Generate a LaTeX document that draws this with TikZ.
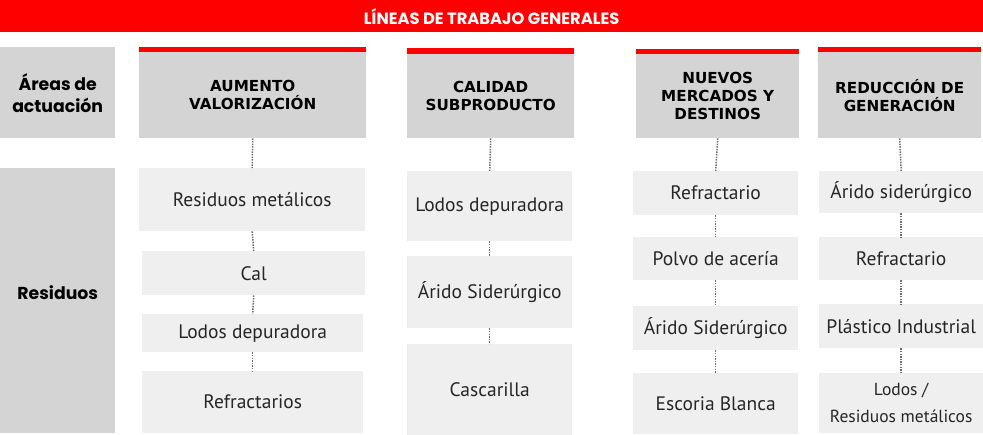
\documentclass[tikz,border=0pt]{standalone}
\usepackage{fontspec}
\setmainfont{PT Sans}
\newfontfamily\headfont{DejaVu Sans}
\newfontfamily\roundfont{Poppins}
\usepackage{tikz}

\definecolor{barred}{HTML}{FF0000}
\definecolor{headgray}{HTML}{D4D4D4}
\definecolor{itemgray}{HTML}{EFEFEF}
\definecolor{dotgray}{HTML}{6E6E6E}

\tikzset{
    titlebar/.style={fill=barred, text=white, anchor=north west, inner sep=0pt,
        font=\roundfont\bfseries\fontsize{16.3}{18}\selectfont},
    sidebox/.style={fill=headgray, anchor=north west, inner sep=0pt, align=center,
        font=\roundfont\bfseries\fontsize{17.3}{22}\selectfont},
    headbox/.style={fill=headgray, anchor=north west, inner sep=0pt, align=center,
        font=\headfont\bfseries\fontsize{15.2}{18}\selectfont},
    item/.style={fill=itemgray, anchor=north west, inner sep=0pt, align=center,
        text=black!85, font=\fontsize{19.5}{22}\selectfont},
    dots/.style={draw=dotgray, line width=1.5pt, dash pattern=on 1.5pt off 1.1pt}
}

\begin{document}
\begin{tikzpicture}[x=1pt, y=-1pt]
                \useasboundingbox (0,0) rectangle (983,435);
                \node[titlebar, minimum width=983, minimum height=32] (titulo) at (0,0) {LÍNEAS DE TRABAJO GENERALES};
                % left column
                \node[sidebox, minimum width=115, minimum height=91] (areas) at (0,47) {Áreas de\\actuación};
                \node[sidebox, minimum width=115, minimum height=265, text depth=16pt] (residuos) at (0,168) {Residuos};
                % headers
                \fill[barred] (139,47) rectangle (366,52);
                \fill[barred] (407,48) rectangle (574,54);
                \fill[barred] (636,49) rectangle (799,54);
                \fill[barred] (818,47) rectangle (981,52);
                \node[headbox, minimum width=227, minimum height=86] (aumento) at (139,52) {AUMENTO\\VALORIZACIÓN};
                \node[headbox, minimum width=167, minimum height=84] (calidad) at (407,54) {CALIDAD\\SUBPRODUCTO};
                \node[headbox, minimum width=163, minimum height=84] (nuevos) at (636,54) {NUEVOS\\MERCADOS Y\\DESTINOS};
                \node[headbox, minimum width=163, minimum height=86] (reduccion) at (818,52) {REDUCCIÓN DE\\GENERACIÓN};
                % aumento valorizacion
                \node[item, minimum width=226, minimum height=63] (a1) at (139,168) {Residuos metálicos};
                \node[item, minimum width=223, minimum height=44] (a2) at (142,251) {Cal};
                \node[item, minimum width=221, minimum height=38] (a3) at (142,314) {Lodos depuradora};
                \node[item, minimum width=221, minimum height=62] (a4) at (142,371) {Refractarios};
                % calidad subproducto
                \node[item, minimum width=165, minimum height=70] (b1) at (407,171) {Lodos depuradora};
                \node[item, minimum width=165, minimum height=72] (b2) at (407,256) {Árido Siderúrgico};
                \node[item, minimum width=165, minimum height=91] (b3) at (407,344) {Cascarilla};
                % nuevos mercados
                \node[item, minimum width=165, minimum height=44] (c1) at (633,171) {Refractario};
                \node[item, minimum width=165, minimum height=43] (c2) at (633,237) {Polvo de acería};
                \node[item, minimum width=165, minimum height=44] (c3) at (633,306) {Árido Siderúrgico};
                \node[item, minimum width=165, minimum height=61] (c4) at (633,373) {Escoria Blanca};
                % reduccion de generacion
                \node[item, minimum width=164, minimum height=42] (d1) at (819,171) {Árido siderúrgico};
                \node[item, minimum width=164, minimum height=43] (d2) at (819,237) {Refractario};
                \node[item, minimum width=164, minimum height=44] (d3) at (819,304) {Plástico Industrial};
                \node[item, minimum width=164, minimum height=60, font=\fontsize{17.5}{27}\selectfont] (d4) at (819,373) {Lodos /\\Residuos metálicos};
                \foreach \p/\q in {aumento/a1, a1/a2, a2/a3, a3/a4, calidad/b1, b1/b2, b2/b3,
                    nuevos/c1, c1/c2, c2/c3, c3/c4, reduccion/d1, d1/d2, d2/d3, d3/d4}
                    \draw[dots] (\p.south) -- (\q.north);
            \end{tikzpicture}
\end{document}
